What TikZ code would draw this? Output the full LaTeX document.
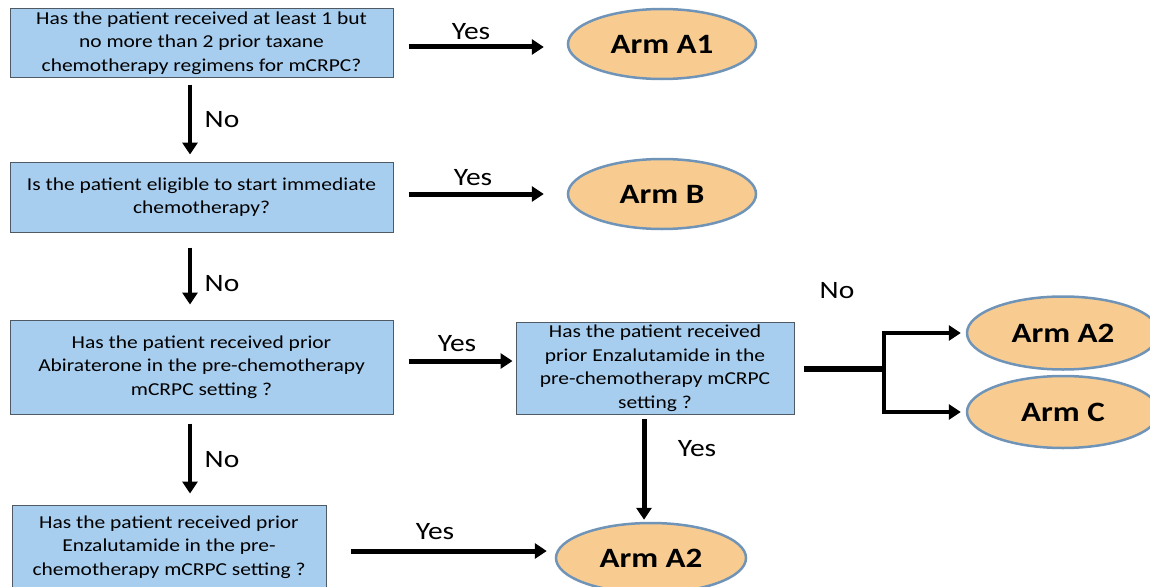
\documentclass[tikz,border=0pt]{standalone}
\usepackage{fontspec}
\setmainfont{Carlito}[FakeStretch=1.18]
\usetikzlibrary{shapes.geometric,arrows.meta}
\definecolor{boxblue}{RGB}{168,206,239}
\definecolor{boxborder}{RGB}{80,90,100}
\definecolor{armfill}{RGB}{248,204,144}
\definecolor{armborder}{RGB}{112,148,184}
\begin{document}
\begin{tikzpicture}[x=1pt,y=-1pt,
  qbox/.style={draw=boxborder, line width=1pt, fill=boxblue, align=center, inner sep=0pt,
    font=\fontsize{18.2}{23.5}\selectfont},
  arm/.style={ellipse, draw=armborder, line width=2.5pt, fill=armfill, inner sep=0pt,
    minimum width=188pt, minimum height=70pt, font=\bfseries\fontsize{28}{30}\selectfont},
  flow/.style={line width=5pt, -{Triangle[length=12pt,width=15pt]}},
  lbl/.style={font=\fontsize{25}{28}\selectfont, inner sep=0pt}]
\useasboundingbox (0,0) rectangle (1150,586);
\clip (0,0) rectangle (1150,586);
% question boxes
\node[qbox, minimum width=383pt, minimum height=68pt] (q1) at (201.5,43)
  {Has the patient received at least 1 but\\no more than 2 prior taxane\\chemotherapy regimens for mCRPC?};
\node[qbox, minimum width=383pt, minimum height=70pt] (q2) at (201.5,197)
  {Is the patient eligible to start immediate\\chemotherapy?};
\node[qbox, minimum width=383pt, minimum height=94pt] (q3) at (201.5,367)
  {Has the patient received prior\\Abiraterone in the pre-chemotherapy\\mCRPC setting ?};
\node[qbox, minimum width=278pt, minimum height=92pt] (q4) at (655,368)
  {Has the patient received\\prior Enzalutamide in the\\pre-chemotherapy mCRPC\\setting ?};
\node[qbox, minimum width=314pt, minimum height=84pt] (q5) at (169,547)
  {Has the patient received prior\\Enzalutamide in the pre-\\chemotherapy mCRPC setting ?};
% arms
\node[arm] (a1) at (662,44) {Arm A1};
\node[arm] (b) at (662,194) {Arm B};
\node[arm, minimum width=192pt, minimum height=73pt] (a2r) at (1063,333) {Arm A2};
\node[arm, minimum width=192pt, minimum height=72pt] (c) at (1063,412) {Arm C};
\node[arm, minimum width=190pt, minimum height=70pt] (a2b) at (651,558) {Arm A2};
% horizontal yes arrows
\draw[flow, shorten <=15pt, shorten >=23pt] ([yshift=-4pt]q1.east) -- ([yshift=-4pt]q1.east -| a1.west);
\draw[flow, shorten <=15pt, shorten >=23pt] ([yshift=3pt]q2.east) -- ([yshift=3pt]q2.east -| b.west);
\draw[flow, shorten <=15pt, shorten >=3pt] ([yshift=6pt]q3.east) -- ([yshift=6pt]q3.east -| q4.west);
\draw[flow, shorten <=24pt, shorten >=8pt] ([yshift=-4pt]q5.east) -- ([yshift=-4pt]q5.east -| a2b.west);
\node[lbl] (y1) at (471,32) {Yes};
\node[lbl] (y2) at (473,178) {Yes};
\node[lbl] (y3) at (457,344) {Yes};
\node[lbl] (y4) at (435,532) {Yes};
% vertical no arrows
\draw[flow, line width=4.5pt, shorten <=7pt, shorten >=7pt] ([xshift=-11.5pt]q1.south) -- ([xshift=-11.5pt]q2.north);
\draw[flow, line width=4.5pt, shorten <=15pt, shorten >=15pt] ([xshift=-11.5pt]q2.south) -- ([xshift=-11.5pt]q3.north);
\draw[flow, line width=4.5pt, shorten <=9pt, shorten >=11pt] ([xshift=-11.5pt]q3.south) -- ([xshift=-11.5pt]q3.south |- q5.north);
\node[lbl] (n1) at (222,120) {No};
\node[lbl] (n2) at (222,284) {No};
\node[lbl] (n3) at (222,460) {No};
% Enzalutamide yes down
\draw[flow, shorten <=4pt, shorten >=2pt] ([xshift=-11pt]q4.south) -- ([xshift=-11pt]q4.south |- a2b.north);
\node[lbl] (y5) at (697,449) {Yes};
% branch
\coordinate (br) at (884,369);
\draw[line width=6pt, shorten <=9pt] (q4.east |- br) -- ([xshift=2pt]br);
\draw[flow, line width=4pt, shorten >=5pt] (br) |- (a2r.west);
\draw[flow, line width=4pt, shorten >=5pt] (br) |- (c.west);
\node[lbl] (n4) at (837,291) {No};
\end{tikzpicture}
\end{document}
